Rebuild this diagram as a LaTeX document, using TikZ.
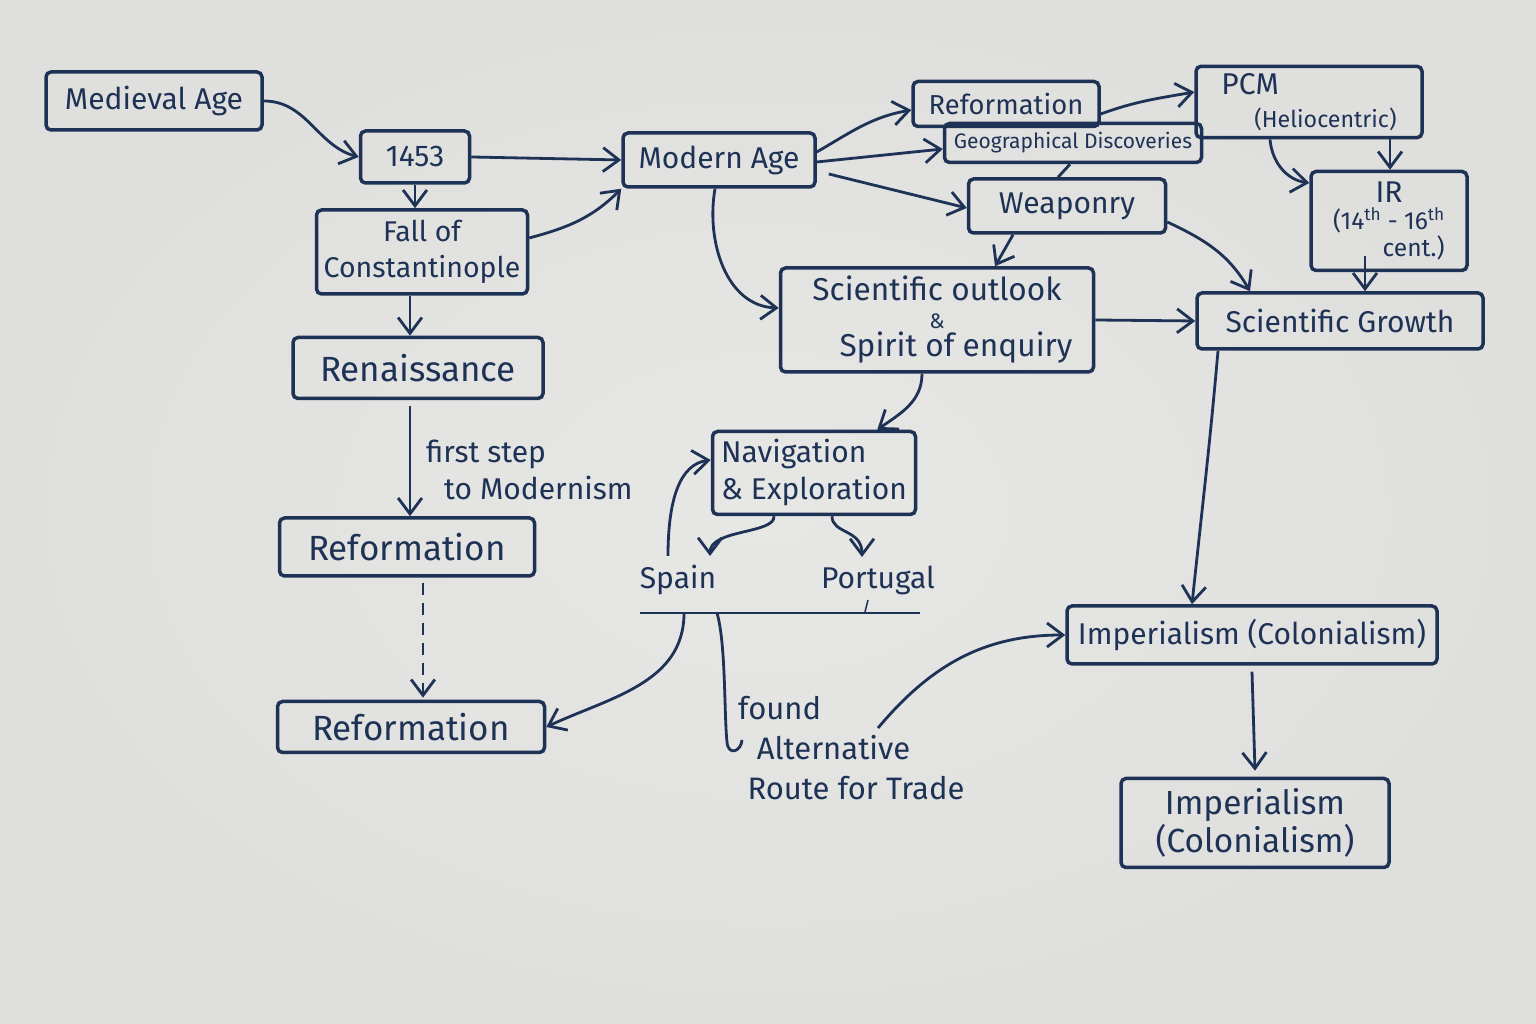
\documentclass[tikz,border=0pt]{standalone}
\usepackage{fontspec}
\setmainfont{Fira Sans}
\usetikzlibrary{arrows.meta}

\definecolor{ink}{RGB}{30,50,86}
\definecolor{paper}{RGB}{231,231,229}
\definecolor{paperedge}{RGB}{223,223,221}

\begin{document}
\begin{tikzpicture}[x=1pt, y=1pt,
  every node/.style={text=ink, font=\fontsize{30}{37}\selectfont},
  box/.style={draw=ink, line width=3.5pt, rounded corners=5pt, align=center,
              inner sep=7pt},
  bigbox/.style={box, font=\fontsize{35}{42}\selectfont},
  smallbox/.style={box, font=\fontsize{21}{25}\selectfont},
  txt/.style={inner sep=3pt, align=left},
  flow/.style={-{Straight Barb[length=5.6mm, width=8.4mm]}, draw=ink, line width=2.8pt},
  line/.style={draw=ink, line width=2.8pt}
]
\shade[inner color=paper, outer color=paperedge] (0,0) rectangle (1536,1024);

% left column
\node[box, minimum width=216, minimum height=58] (medieval) at (154,923) {Medieval Age};
\node[box, minimum width=109, minimum height=52] (yr1453) at (415,867) {1453};
\node[box, minimum width=211, minimum height=84, font=\fontsize{28.5}{36}\selectfont] (fall) at (422,772) {Fall of\\Constantinople};
\node[bigbox, minimum width=250, minimum height=61] (renaiss) at (418,656) {Renaissance};
\node[bigbox, minimum width=255, minimum height=58] (reformA) at (407,477) {Reformation};
\node[bigbox, minimum width=267, minimum height=51] (reformB) at (411,297) {Reformation};
\node[txt, anchor=west] (steplbl) at (423,554) {first step\\\hspace{0.6em}to Modernism};

% middle
\node[box, minimum width=192, minimum height=54] (modern) at (719,864) {Modern Age};
\node[box, minimum width=313, minimum height=104, font=\fontsize{31.6}{35}\selectfont] (sciout) at (937,704)
  {Scientific outlook\\[-7pt]{\fontsize{21}{21}\selectfont\&}\\[-7pt]\hspace{1.2em}Spirit of enquiry};
\node[box, minimum width=203, minimum height=83, align=left] (nav) at (814,551) {Navigation\\\& Exploration};
\node[txt] (spain) at (678,444) {Spain};
\node[txt] (portugal) at (878,444) {Portugal};
\node[txt, anchor=west, font=\fontsize{31}{40}\selectfont] (found) at (735,276)
  {found\\\hspace{0.6em}Alternative\\\hspace{0.3em}Route for Trade};
\coordinate (lineL) at (640,411);
\coordinate (lineR) at (920,411);
\coordinate (splitS) at (684,411);
\coordinate (splitF) at (717,411);
\coordinate (hook) at (727,282);
\coordinate (tradeout) at (878,296);

% top right
\node[box, minimum width=186, minimum height=45, font=\fontsize{27.4}{32}\selectfont] (reformTop) at (1006,920) {Reformation};
\node[smallbox, minimum width=257, minimum height=39] (geo) at (1073,881) {Geographical Discoveries};
\node[box, minimum width=197, minimum height=54] (weapon) at (1067,818) {Weaponry};
\node[box, minimum width=226, minimum height=69, align=left] (pcm) at (1309,922)
  {PCM\\[-4pt]\hspace{1.1em}{\fontsize{23.2}{28}\selectfont(Heliocentric)}};
\node[box, minimum width=156, minimum height=99, font=\fontsize{24.6}{27}\selectfont] (ir) at (1389,803)
  {{\fontsize{30}{32}\selectfont IR}\\(14\textsuperscript{th} - 16\textsuperscript{th}\\\hspace{2em}cent.)};
\node[box, minimum width=286, minimum height=56] (scigrowth) at (1340,703) {Scientific Growth};
\node[box, minimum width=370, minimum height=58] (imperA) at (1252,389) {Imperialism (Colonialism)};
\node[box, minimum width=268, minimum height=89, font=\fontsize{33.4}{38}\selectfont] (imperB) at (1255,201) {Imperialism\\(Colonialism)};

% connectors, left
\draw[flow] (medieval.east) to[out=0, in=165] (yr1453.west);
\draw[flow] (yr1453.south) -- (yr1453.south |- fall.north);
\draw[flow] (yr1453.east) -- (modern.west);
\draw[flow] ([yshift=14]fall.east) to[out=15, in=225] (modern.south west);
\draw[flow] ([xshift=-12]fall.south) -- ([xshift=-8]renaiss.north);
\draw[flow] ([xshift=-8, yshift=-6]renaiss.south) -- ([xshift=3]reformA.north);
\draw[flow, dashed, dash pattern=on 12pt off 8pt, shorten <=5pt, shorten >=2pt] ([xshift=16]reformA.south) -- ([xshift=12]reformB.north);

% connectors, middle
\draw[flow] ([yshift=8]modern.east) to[out=30, in=190] ([yshift=-6]reformTop.west);
\draw[flow] ([yshift=-2]modern.east) -- ([yshift=-6]geo.west);
\draw[flow] ([xshift=12, yshift=-14]modern.east) -- ([yshift=-2]weapon.west);
\draw[flow] ([xshift=-4]modern.south) to[out=-100, in=178] ([yshift=12]sciout.west);
\draw[flow] ([xshift=-15]sciout.south) to[out=-90, in=35] ([xshift=-40]nav.north east);
\draw[flow] (sciout.east) -- (scigrowth.west);
\draw[flow] ([xshift=-40]nav.south) .. controls (775,490) and (710,495) .. (710,468);
\draw[flow] ([xshift=18]nav.south) .. controls (832,490) and (862,495) .. (862,467);
\draw[flow] ([xshift=-10, yshift=6]spain.north) .. controls (668,525) and (680,560) .. ([yshift=13]nav.west);
\draw[line, line width=2pt] (lineL) -- (lineR);
\draw[line, line width=1.5pt] (868,424) -- (865,412);
\draw[flow] (splitS) to[out=-90, in=25] (reformB.east);
\draw[line] (splitF) .. controls (726,380) and (724,310) .. (hook)
  .. controls (728,268) and (741,272) .. (742,284);
\draw[flow] (tradeout) to[out=50, in=180] (imperA.west);

% connectors, right
\draw[flow] ([yshift=-10]reformTop.east) to[out=20, in=190] ([yshift=10]pcm.west);
\draw[line] ([xshift=-3]geo.south) -- ([xshift=-9]weapon.north);
\draw[flow] ([xshift=-54]weapon.south) -- ([xshift=58]sciout.north);
\draw[flow] ([yshift=-16]weapon.east) to[out=-25, in=120] ([xshift=-90]scigrowth.north);
\draw[flow] ([xshift=81]pcm.south) -- ([xshift=81]pcm.south |- ir.north);
\draw[flow] ([xshift=-39]pcm.south) to[out=-85, in=172] ([yshift=38]ir.west);
\draw[flow] ([xshift=-24, yshift=16]ir.south) -- ([xshift=-24]ir.south |- scigrowth.north);
\draw[flow] ([xshift=-122]scigrowth.south) to[out=-95, in=84] ([xshift=-60]imperA.north);
\draw[flow] ([yshift=-6]imperA.south) -- ([yshift=6]imperB.north);

\end{tikzpicture}
\end{document}
